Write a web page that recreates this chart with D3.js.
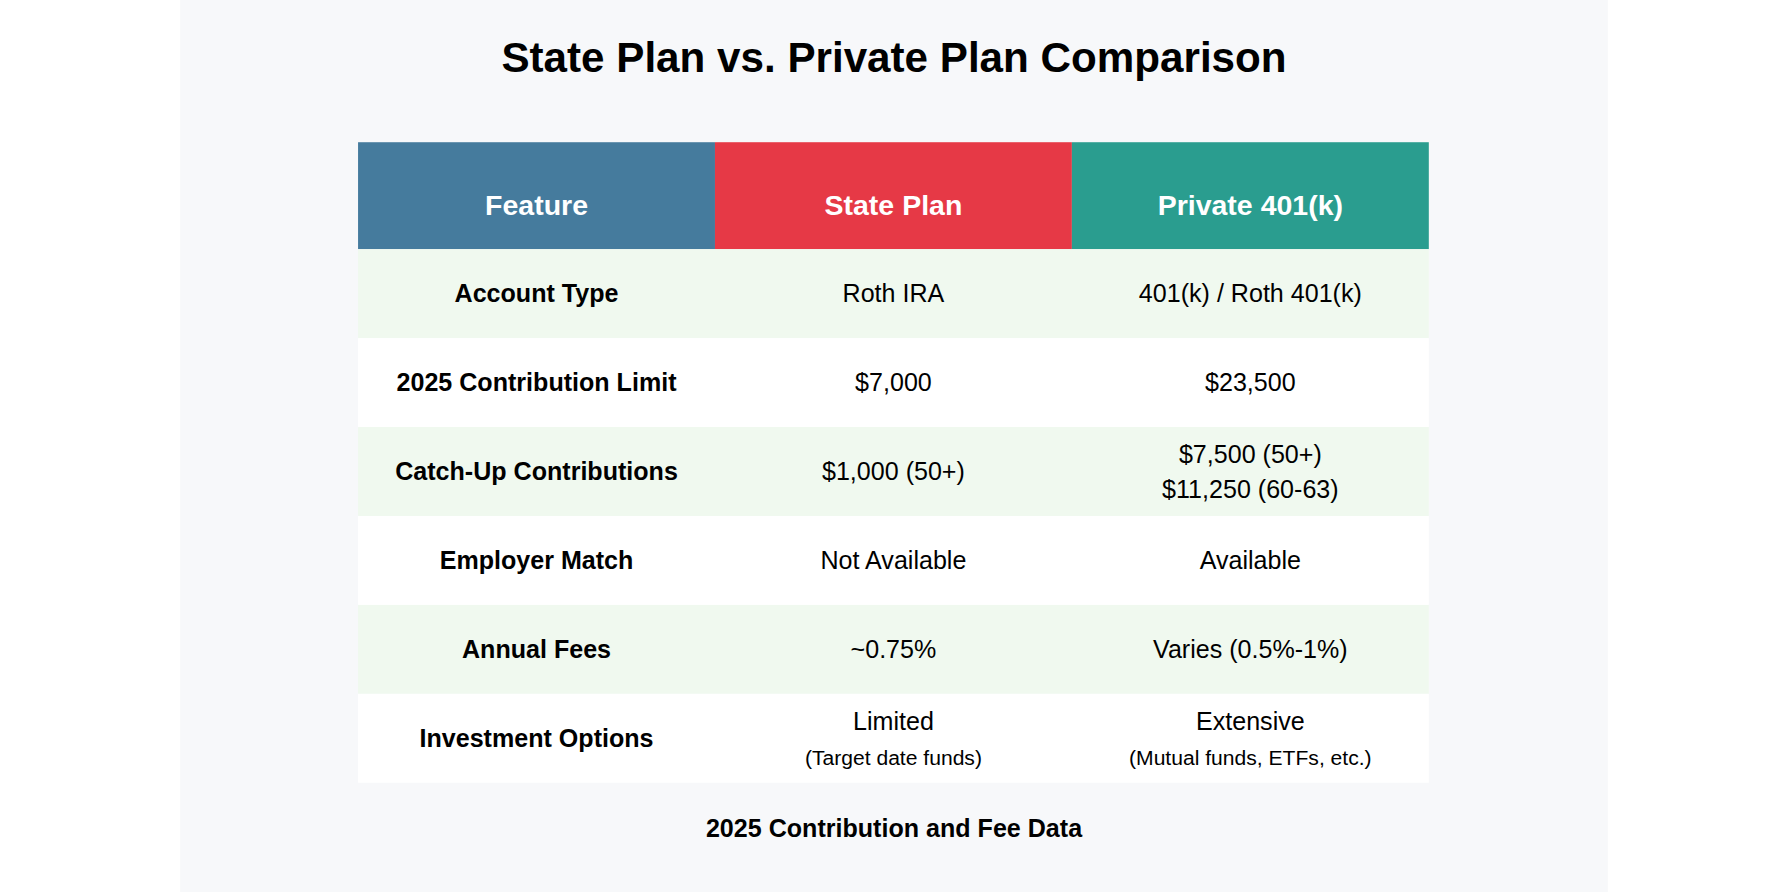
<!DOCTYPE html><html><head><meta charset="utf-8">
<script src="https://cdn.jsdelivr.net/npm/d3@7"></script>
<style>html,body{margin:0;padding:0;background:#fff;}svg{display:block;}</style></head><body>
<svg id="c" width="1788" height="892" viewBox="0 0 1568 784" preserveAspectRatio="none"></svg>
<script>
const headers = ["Feature", "State Plan", "Private 401(k)"];
const headerColors = ["#457b9d", "#e63946", "#2a9d8f"];
const features = ["Account Type", "2025 Contribution Limit", "Catch-Up Contributions", "Employer Match", "Annual Fees", "Investment Options"];
const statePlan = [["Roth IRA"], ["$7,000"], ["$1,000 (50+)"], ["Not Available"], ["~0.75%"], ["Limited", "(Target date funds)"]];
const privatePlan = [["401(k) / Roth 401(k)"], ["$23,500"], ["$7,500 (50+)", "$11,250 (60-63)"], ["Available"], ["Varies (0.5%-1%)"], ["Extensive", "(Mutual funds, ETFs, etc.)"]];

const svg = d3.select("#c");
const F = "Liberation Sans, Arial, sans-serif";
svg.append("rect").attr("x",158).attr("y",0).attr("width",1252).attr("height",784).attr("fill","#f7f8fa");
svg.append("text").attr("x",784).attr("y",63).attr("text-anchor","middle").attr("font-family",F)
  .attr("font-weight","bold").attr("font-size",37).attr("fill","#000").text("State Plan vs. Private Plan Comparison");

const x = d3.scaleBand().domain(d3.range(3)).range([314,1253]);
const hy0 = 125, hy1 = 219;
const y = d3.scaleBand().domain(d3.range(features.length)).range([hy1,688]);

headers.forEach((h,i)=>{
  svg.append("rect").attr("x",x(i)).attr("y",hy0).attr("width",x.bandwidth()).attr("height",hy1-hy0).attr("fill",headerColors[i]);
  svg.append("text").attr("x",x(i)+x.bandwidth()/2).attr("y",180).attr("dy","0.35em").attr("text-anchor","middle")
    .attr("font-family",F).attr("font-weight","bold").attr("font-size",25).attr("fill","#fff").text(h);
});

features.forEach((f,r)=>{
  svg.append("rect").attr("x",314).attr("y",y(r)).attr("width",939).attr("height",y.bandwidth())
    .attr("fill", r%2===0 ? "#f0f9ef" : "#ffffff");
  const cy = y(r)+y.bandwidth()/2;
  svg.append("text").attr("x",x(0)+x.bandwidth()/2).attr("y",cy).attr("dy","0.35em").attr("text-anchor","middle")
    .attr("font-family",F).attr("font-weight","bold").attr("font-size",22).attr("fill","#000").text(f);
  [statePlan[r], privatePlan[r]].forEach((lines,j)=>{
    const cx = x(j+1)+x.bandwidth()/2;
    if(lines.length===1){
      svg.append("text").attr("x",cx).attr("y",cy).attr("dy","0.35em").attr("text-anchor","middle")
        .attr("font-family",F).attr("font-size",22).attr("fill","#000").text(lines[0]);
    } else {
      const sub = lines[1].startsWith("(");
      svg.append("text").attr("x",cx).attr("y",cy-15).attr("dy","0.35em").attr("text-anchor","middle")
        .attr("font-family",F).attr("font-size",22).attr("fill","#000").text(lines[0]);
      svg.append("text").attr("x",cx).attr("y",sub?cy+17:cy+16).attr("dy","0.35em").attr("text-anchor","middle")
        .attr("font-family",F).attr("font-size",sub?18.5:22).attr("fill","#000").text(lines[1]);
    }
  });
});

svg.append("text").attr("x",784).attr("y",728).attr("dy","0.35em").attr("text-anchor","middle").attr("font-family",F)
  .attr("font-weight","bold").attr("font-size",22).attr("fill","#000").text("2025 Contribution and Fee Data");
</script></body></html>
